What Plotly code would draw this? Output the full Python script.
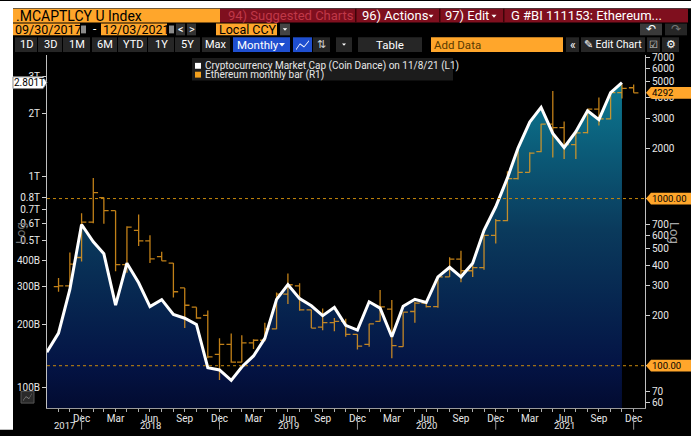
import math
import pandas as pd
import plotly.graph_objects as go

# ---------------- data ----------------
# Cryptocurrency market cap, month-end values, Sep 2017 .. Nov 2021 (billions USD)
cap_start = "2017-10-01"
cap_values_b = [147, 181, 292, 594,
                492, 431, 246, 389, 314, 242, 261, 222, 213, 199, 124, 121,
                108, 125, 141, 171, 262, 308, 264, 244, 219, 240, 197, 187,
                255, 238, 174, 243, 262, 253, 335, 372, 335, 389, 557, 721,
                989, 1370, 1820, 2140, 1610, 1380, 1640, 2060, 1870, 2510, 2801]

# Ethereum monthly OHLC bars, Oct 2017 .. Dec 2021 (USD)
eth_start = "2017-11-01"
eth_open = [297, 300, 444,
            723, 1014, 846, 402, 646, 559, 450, 411, 292, 224, 200, 117,
            134, 105, 137, 142, 166, 268, 300, 216, 170, 181, 184, 154,
            134, 184, 218, 130, 211, 237, 226, 340, 434, 370, 386, 603,
            739, 1317, 1436, 1907, 2790, 2658, 2100, 2480, 3430, 2995, 4299, 4603]
eth_high = [335, 475, 816,
            1329, 1014, 846, 684, 802, 603, 481, 411, 292, 224, 214, 146,
            156, 152, 144, 181, 274, 356, 311, 216, 220, 193, 191, 154,
            178, 284, 247, 209, 241, 241, 340, 446, 488, 400, 603, 755,
            1455, 1950, 1890, 2800, 4395, 2889, 2480, 3440, 4020, 4400, 4814, 4814]
eth_low = [277, 286, 420,
           713, 706, 367, 360, 520, 411, 424, 256, 168, 191, 111, 82,
           104, 105, 126, 140, 165, 234, 213, 168, 163, 161, 149, 125,
           130, 184, 111, 130, 181, 223, 222, 340, 316, 340, 375, 538,
           732, 1299, 1436, 1890, 1759, 1726, 1726, 2450, 2734, 2970, 3963, 4290]
eth_close = [300, 405, 723,
             1084, 846, 402, 675, 559, 436, 424, 277, 230, 193, 113, 134,
             105, 137, 142, 166, 268, 305, 216, 168, 181, 184, 154, 131,
             178, 225, 132, 209, 237, 226, 340, 434, 370, 386, 603, 739,
             1317, 1436, 1870, 2790, 2658, 2100, 2470, 3430, 2995, 4299, 4559, 4292]

left_tick_vals = [1e11, 2e11, 3e11, 4e11, 5e11, 6e11, 7e11, 8e11, 1e12, 2e12, 3e12]
left_tick_text = ["100B", "200B", "300B", "400B", "0.5T", "0.6T", "0.7T", "0.8T", "1T", "2T", "3T"]
right_tick_vals = [60, 70, 100, 200, 300, 400, 500, 600, 700, 1000, 2000, 3000, 4000, 5000, 6000, 7000]
right_tick_text = ["60", "70", "", "200", "300", "400", "500", "600", "700", "", "2000", "3000", "4000", "5000", "6000", "7000"]
month_labels = {3: "Mar", 6: "Jun", 9: "Sep", 12: "Dec"}
years = [2017, 2018, 2019, 2020, 2021]
price_lines = [1000, 100]
last_cap_label = "2.801T"
last_eth_label = "4292"
last_eth_value = 4292

cap_dates = pd.date_range(cap_start, periods=len(cap_values_b), freq="MS") - pd.Timedelta(days=1)
cap_values = [v * 1e9 for v in cap_values_b]
eth_dates = pd.date_range(eth_start, periods=len(eth_close), freq="MS") - pd.Timedelta(days=1)
tick_dates = pd.date_range("2017-10-01", "2022-01-01", freq="MS") - pd.Timedelta(days=1)
tick_text = [month_labels.get(d.month, "") for d in tick_dates]

# ---------------- geometry helpers ----------------
W, H = 691, 436
L, R, T, B = 47, 645, 55, 414
YL = [10.902, 12.579]
YR = [1.747, 3.859]
XR = ["2017-09-30 12:00", "2022-01-30"]
FONT = "Roboto, 'Liberation Sans', sans-serif"
ORANGE = "#f2a01e"
AMBER = "#ffa62b"


def px(x):
    return (x - L) / (R - L)


def py(y):
    return (B - y) / (B - T)


def py_right(v):
    return (math.log10(v) - YR[0]) / (YR[1] - YR[0])


def py_left(v):
    return (math.log10(v) - YL[0]) / (YL[1] - YL[0])


shapes = []
annotations = []


def rect(x0, y0, x1, y1, fill, line=None):
    shapes.append(dict(type="rect", xref="paper", yref="paper",
                       x0=px(x0), x1=px(x1), y0=py(y1), y1=py(y0),
                       fillcolor=fill, line=dict(width=1 if line else 0, color=line or fill),
                       layer="above"))


def text(x, y, s, color="white", size=11, anchor="left", angle=0, family=FONT):
    annotations.append(dict(xref="paper", yref="paper", x=px(x), y=py(y), text=s,
                            showarrow=False, xanchor=anchor, yanchor="middle",
                            textangle=angle, borderpad=0,
                            font=dict(color=color, size=size, family=family)))


def path(points, fill, line=None):
    d = "M " + " L ".join(f"{px(a):.5f},{b:.5f}" for a, b in points) + " Z"
    shapes.append(dict(type="path", xref="paper", yref="paper", path=d,
                       fillcolor=fill, line=dict(width=1 if line else 0, color=line or fill),
                       layer="above"))


def tri_down(xc, yc, size, color):
    path([(xc - size, py(yc - size * 0.6)), (xc + size, py(yc - size * 0.6)), (xc, py(yc + size * 0.6))], color)


# ---------------- traces ----------------
fig = go.Figure()
base = 10 ** YL[0]
fig.add_trace(go.Scatter(x=cap_dates, y=[base] * len(cap_dates), mode="lines",
                         line=dict(width=0), hoverinfo="skip", yaxis="y"))
fig.add_trace(go.Scatter(x=cap_dates, y=cap_values, mode="lines", line=dict(width=0),
                         fill="tonexty",
                         fillgradient=dict(type="vertical", start=base, stop=2.9e12,
                                           colorscale=[[0, "#020a2e"], [0.15, "#041445"],
                                                       [0.55, "#0a3a5c"], [1, "#0c7a92"]]),
                         hoverinfo="skip", yaxis="y"))
fig.add_trace(go.Ohlc(x=eth_dates, open=eth_open, high=eth_high, low=eth_low, close=eth_close,
                      yaxis="y2", tickwidth=0.45, opacity=0.8,
                      increasing=dict(line=dict(color=ORANGE, width=1.3)),
                      decreasing=dict(line=dict(color=ORANGE, width=1.3))))
fig.add_trace(go.Scatter(x=cap_dates, y=cap_values, mode="lines",
                         line=dict(color="white", width=3), yaxis="y3"))

# ---------------- chart furniture ----------------
# white page edges
shapes.append(dict(type="rect", xref="paper", yref="paper", x0=px(0), x1=px(13), y0=py(H), y1=py(0),
                   fillcolor="white", line=dict(width=0), layer="above"))
shapes.append(dict(type="rect", xref="paper", yref="paper", x0=px(0), x1=px(W), y0=py(7.5), y1=py(0),
                   fillcolor="white", line=dict(width=0), layer="above"))

# dotted price lines on the right axis
for v in price_lines:
    shapes.append(dict(type="line", xref="paper", yref="paper", x0=0, x1=1,
                       y0=py_right(v), y1=py_right(v),
                       line=dict(color="#c8880c", width=1, dash="dot"), layer="above"))

# year separators and labels
for yr in years:
    sep = pd.Timestamp(f"{yr}-12-31")
    shapes.append(dict(type="line", xref="x", yref="paper", x0=sep, x1=sep,
                       y0=py(421), y1=py(436), line=dict(color="#9a9a9a", width=1)))
    pos = pd.Timestamp("2017-11-15") if yr == 2017 else pd.Timestamp(f"{yr}-07-01")
    annotations.append(dict(xref="x", yref="paper", x=pos, y=py(431.5), text=str(yr),
                            showarrow=False, xanchor="center", yanchor="middle", borderpad=0,
                            font=dict(color="#e8e8e8", size=9.5, family=FONT)))

# flags on the right axis
def right_flag(yv, label):
    yc = py_right(yv)
    hh = 6 / (B - T)
    path([(646, yc), (651, yc + hh), (691, yc + hh), (691, yc - hh), (651, yc - hh)], AMBER)
    annotations.append(dict(xref="paper", yref="paper", x=px(651), y=yc, text=label,
                            showarrow=False, xanchor="left", yanchor="middle", borderpad=0,
                            font=dict(color="black", size=9.5, family=FONT)))


right_flag(last_eth_value, last_eth_label)
for v in price_lines:
    right_flag(v, f"{v:.2f}")

# flag on the left axis
yc = py_left(cap_values[-1])
hh = 6 / (B - T)
path([(13, yc + hh), (43, yc + hh), (47, yc), (43, yc - hh), (13, yc - hh)], "white", "#888")
annotations.append(dict(xref="paper", yref="paper", x=px(29), y=yc, text=last_cap_label,
                        showarrow=False, xanchor="center", yanchor="middle", borderpad=0,
                        font=dict(color="black", size=10, family=FONT)))

# Log labels
text(21, 236, "Log", "#6e6e6e", 13, "center", -90)
text(674, 236, "Log", "#a8a8a8", 13, "center", 90)

# legend
rect(192, 58, 453, 81, "#1c1c1c")
rect(195, 63, 201, 69, "white")
text(204, 66.3, "Cryptocurrency Market Cap (Coin Dance) on 11/8/21 (L1)", "#e8e8e8", 10)
rect(195, 72, 201, 78, ORANGE)
text(204, 75.5, "Ethereum monthly bar (R1)", "#e8e8e8", 10)

# small icon bottom-left
rect(21, 397, 34, 409, "#2a2a2a", "#555555")
path([(23, py(406)), (26, py(402)), (29, py(404)), (32, py(399)), (32, py(399.6)), (29, py(404.8)),
      (26, py(402.8)), (23, py(406.8))], "#9a9a9a")

# ---------------- header ----------------
rect(13, 8, 220, 22, AMBER)
text(15, 15, ".MCAPTLCY U Index", "black", 14)
rect(220, 8, 688, 22, "#7f0f1e")
text(227, 15, "94) Suggested Charts", "#c03848", 13)
for sx in (355, 439, 503):
    rect(sx, 8, sx + 1.5, 22, "#3e0509")
text(361, 15, "96) Actions", "white", 13)
tri_down(431, 15.5, 2.5, "white")
text(444, 15, "97) Edit", "white", 13)
tri_down(494, 15.5, 2.5, "white")
text(510, 15, "G #BI 111153: Ethereum...", "white", 13)

rect(13, 23, 80, 35, AMBER)
text(14, 29, "09/30/2017", "black", 12.5)
rect(81, 25, 86, 33, "#8a8a8a")
text(92, 29, "-", "white", 12)
rect(101, 23, 167, 35, AMBER)
text(102, 29, "12/03/2021", "black", 12.5)
rect(169, 25, 174, 33, "#8a8a8a")
rect(176, 23, 185, 35, "#333333")
text(180.5, 29, "<", "white", 11, "center")
rect(187, 23, 196, 35, "#333333")
text(191.5, 29, ">", "white", 11, "center")
rect(216, 23, 277, 35, AMBER)
text(218, 29, "Local CCY", "black", 12.5)
rect(280, 23, 290, 35, "#444444")
tri_down(285, 29, 2.2, "white")
rect(640, 23, 662, 35, "#3a3a3a")
text(651, 29, "\u21B6", "white", 12, "center")
rect(665, 23, 687, 35, "#262626")
text(676, 29, "\u21B7", "#777777", 12, "center")

buttons = [(15, 37, "1D"), (38, 62, "3D"), (63, 90, "1M"), (92, 117, "6M"), (118, 147, "YTD"),
           (148, 174, "1Y"), (175, 200, "5Y"), (202, 230, "Max")]
for x0, x1, s in buttons:
    rect(x0, 37, x1, 52, "#262626")
    text((x0 + x1) / 2, 44.5, s, "white", 11, "center")
rect(233, 37, 290, 52, "#1f4fd0")
text(236, 44.5, "Monthly", "white", 11.5)
tri_down(282, 44.5, 3, "white")
rect(293, 37, 312, 52, "#1f4fd0")
path([(296, py(49)), (300, py(43)), (304, py(46)), (309, py(40)), (309, py(41.2)), (304, py(47.3)),
      (300, py(44.3)), (296, py(50.2))], "white")
rect(313, 37, 330, 52, "#262626")
text(321.5, 44.5, "\u21C5", "#d0d0d0", 11, "center")
rect(336, 37, 352, 52, "#262626")
tri_down(344, 44.5, 2, "white")
rect(358, 37, 422, 52, "#262626")
text(390, 44.5, "Table", "white", 11.5, "center")
rect(431, 37, 563, 52, AMBER)
text(433, 44.5, "Add Data", "#5a3a00", 11.5)
rect(566, 37, 579, 52, "#262626")
text(572.5, 44.5, "\u00AB", "white", 12, "center")
rect(581, 37, 645, 52, "#262626")
text(613, 44.5, "\u270E Edit Chart", "white", 10.5, "center")
rect(647, 37, 660, 52, "#262626")
text(653.5, 44.5, "\u2611", "#d0d0d0", 10, "center")
rect(662, 37, 679, 52, "#262626")
text(670.5, 44.5, "\u2699", "white", 11, "center")

# ---------------- layout ----------------
tickfont = dict(size=10, color="#e8e8e8", family=FONT)
fig.update_layout(
    width=W, height=H,
    margin=dict(l=L, r=W - R, t=T, b=H - B, pad=0),
    paper_bgcolor="black", plot_bgcolor="black",
    showlegend=False,
    xaxis=dict(type="date", range=XR, tickvals=list(tick_dates), ticktext=tick_text,
               ticks="outside", ticklen=3, tickcolor="#b0b0b0", showline=True,
               linecolor="#9a9a9a", linewidth=1, showgrid=False, zeroline=False,
               tickfont=tickfont, rangeslider=dict(visible=False), tickangle=0,
               ticklabelstandoff=-2),
    yaxis=dict(type="log", range=YL, tickvals=left_tick_vals, ticktext=left_tick_text,
               ticks="outside", ticklen=4, tickcolor="#d0d0d0", showline=True,
               linecolor="#c0c0c0", linewidth=1, showgrid=False, zeroline=False,
               tickfont=tickfont),
    yaxis2=dict(type="log", range=YR, overlaying="y", side="right",
                tickvals=right_tick_vals, ticktext=right_tick_text,
                ticks="outside", ticklen=4, tickcolor="#d0d0d0", showline=True,
                linecolor="#c0c0c0", linewidth=1, showgrid=False, zeroline=False,
                tickfont=tickfont),
    yaxis3=dict(type="log", range=YL, overlaying="y", visible=False),
    shapes=shapes,
    annotations=annotations,
)

fig.write_html("out.html", config={"displayModeBar": False},
               post_script="document.body.style.margin='0px';")
